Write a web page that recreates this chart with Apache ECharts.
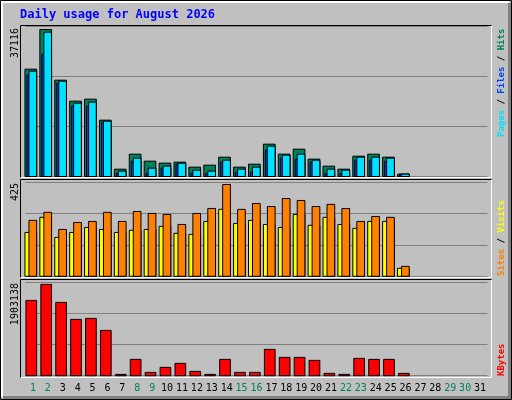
<!DOCTYPE html>
<html><head><meta charset="utf-8">
<script src="https://cdn.jsdelivr.net/npm/echarts@6/dist/echarts.min.js"></script>
<style>html,body{margin:0;padding:0;background:#fff}#c{width:512px;height:400px}</style>
</head><body><div id="c"></div>
<script>
const days = ['1','2','3','4','5','6','7','8','9','10','11','12','13','14','15','16','17','18','19','20','21','22','23','24','25','26','27','28','29','30','31'];
const weekend = ['1','2','8','9','15','16','22','23','29','30'];
const hits  = [27100,37116,24320,19020,19530,14220,1850,5640,3870,3370,3620,2360,2860,4880,2360,3110,8160,5640,6900,4380,2610,1850,5130,5640,4880,590];
const files = [26595,36440,24070,18515,18770,13970,1350,4630,2100,2610,3370,1600,1350,4120,1850,2360,7660,5390,5640,4120,1850,1600,4880,4880,4630,590];
const pages = [25585,30890,23565,17760,17760,13720,760,3870,840,2100,3110,840,760,3620,1090,1090,6650,4630,4380,3620,760,760,4120,4120,3870,590];
const visits= [259,296,217,249,254,296,254,300,291,286,240,291,314,425,310,337,323,360,351,323,333,314,254,277,273,46];
const sites = [203,273,180,203,226,217,203,213,217,231,199,194,254,310,245,259,240,226,286,236,273,240,222,254,254,37];
const kbytes= [1569800,1903138,1528100,1173900,1194700,944700,27800,340400,69500,173700,257000,90300,27800,340400,69500,69500,548700,382000,382000,319500,48600,27800,361200,340400,340400,48600];
const topLabels = ['37116','425','1903138'];
const title = 'Daily usage for August 2026';

const chart = echarts.init(document.getElementById('c'));
const mono = 'DejaVu Sans Mono';
function bar(name, data, gi, color, x0, x1, z){
  return {type:'custom', name, xAxisIndex:gi, yAxisIndex:gi, z:z,
    data: data.map((v,i)=>[i,v]),
    renderItem:(p,api)=>{
      const b = api.coord([api.value(0),0]);
      const t = api.coord([api.value(0),api.value(1)]);
      return {type:'rect', shape:{x:b[0]+x0, y:t[1], width:x1-x0, height:b[1]-t[1]},
        style:{fill:color, stroke:'#000', lineWidth:1}};
    }};
}
const maxes=[37116*150/147, 425*94.5/92, 1903138*93/91.3];
const grids=[{top:26.5,height:150},{top:182,height:94.3},{top:282.7,height:93}];
function ax(i){return {type:'value',gridIndex:i,min:0,max:maxes[i],interval:maxes[i]/3,
  axisLabel:{show:false},axisLine:{show:false},axisTick:{show:false},
  splitLine:{lineStyle:{color:'#808080',width:1}}};}
function xa(i){return {type:'category',gridIndex:i,data:days,boundaryGap:true,
  axisLine:{show:false},axisTick:{show:false},
  axisLabel: i===2 ? {show:true,margin:8,interval:0,fontFamily:mono,fontSize:10,
     formatter:v=> weekend.includes(v)?'{w|'+v+'}':'{d|'+v+'}',
     rich:{w:{color:'#00805C',fontFamily:mono,fontSize:10},d:{color:'#000',fontFamily:mono,fontSize:10}}} : {show:false}};}
const frames=[[25,177],[179,277],[279,377]];
const g=[];
// outer bevel
g.push({type:'rect',shape:{x:0.5,y:0.5,width:511,height:399},style:{fill:'#C0C0C0',stroke:'#000'},z:-10});
g.push({type:'polyline',shape:{points:[[2,397],[2,2],[509,2]]},style:{stroke:'#fff',lineWidth:2,fill:null},z:-9});
g.push({type:'polyline',shape:{points:[[3,397.5],[509.5,397.5],[509.5,3]]},style:{stroke:'#808080',lineWidth:3,fill:null},z:-9});
frames.forEach(f=>{
  g.push({type:'polyline',shape:{points:[[20.5,f[1]+0.5],[20.5,f[0]+0.5],[491.5,f[0]+0.5]]},style:{stroke:'#000',lineWidth:1,fill:null},z:50});
  g.push({type:'polyline',shape:{points:[[20.5,f[1]+0.5],[491.5,f[1]+0.5],[491.5,f[0]+0.5]]},style:{stroke:'#fff',lineWidth:1,fill:null},z:49});
});
g.push({type:'text',x:20,y:15,style:{text:title,fill:'#0000FF',font:'bold 12px '+mono,textVerticalAlign:'middle'},z:60});
const lx=[[15,28],[15,183],[15,283]];
topLabels.forEach((t,i)=>g.push({type:'text',x:lx[i][0],y:lx[i][1],rotation:Math.PI/2,
  style:{text:t,fill:'#000',font:'10px '+mono,textAlign:'right',textVerticalAlign:'middle'},z:60}));
function vlab(x,y,rich,txt,anchor){g.push({type:'text',x,y,rotation:Math.PI/2,
  style:{text:txt,rich,font:'bold 9px '+mono,textAlign:anchor,textVerticalAlign:'middle'},z:60});}
const rs=c=>({fill:c,font:'bold 9px '+mono});
vlab(502,137,{p:rs('#00E0FF'),f:rs('#0040FF'),h:rs('#00805C'),k:rs('#000')},'{p|Pages}{k| / }{f|Files}{k| / }{h|Hits}','left');
vlab(502,276,{s:rs('#FF8000'),v:rs('#FFFF00'),k:rs('#000')},'{s|Sites}{k| / }{v|Visits}','left');
vlab(502,376,{r:rs('#FF0000')},'{r|KBytes}','left');

chart.setOption({
  animation:false, backgroundColor:'#C0C0C0',
  grid: grids.map(gr=>({left:25.5,width:462,top:gr.top,height:gr.height})),
  xAxis:[xa(0),xa(1),xa(2)], yAxis:[ax(0),ax(1),ax(2)],
  graphic:{elements:g},
  series:[
    bar('Hits',hits,0,'#00805C',-8,3.7,10),
    bar('Pages',pages,0,'#0040FF',-6,3.7,11),
    bar('Files',files,0,'#00E0FF',-4,3.7,12),
    bar('Sites',sites,1,'#FFFF00',-8,3.7,10),
    bar('Visits',visits,1,'#FF8000',-4,3.7,11),
    bar('KBytes',kbytes,2,'#FF0000',-7,3.7,10)
  ]
});
</script></body></html>
